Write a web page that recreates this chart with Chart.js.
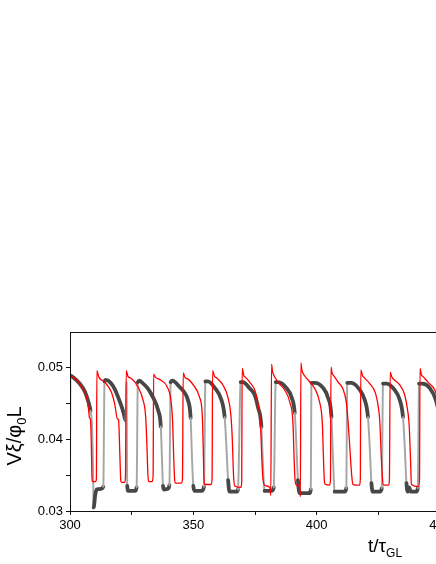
<!DOCTYPE html>
<html>
<head>
<meta charset="utf-8">
<script src="https://cdn.jsdelivr.net/npm/chart.js@4"></script>
<style>
  html, body { margin: 0; padding: 0; background: #fff; overflow: hidden; }
  #wrap { position: relative; width: 460px; height: 564px; }
</style>
</head>
<body>
<div id="wrap"><canvas id="myChart" width="460" height="564"></canvas></div>
<script>
/* gray (simulation) series */
const grayT = [300.0, 300.2, 301.5, 303.9, 306.0, 307.5, 308.3, 308.9, 309.3, 309.6, 310.2, 310.8, 312.5, 313.5,
  314.0, 314.4, 316.5, 318.2, 319.5, 321.0, 321.8, 322.5, 322.9, 323.2, 323.7, 326.3, 327.0,
  327.5, 328.2, 329.0, 331.6, 333.6, 335.7, 336.8, 337.3, 337.7, 338.2, 339.6, 340.3,
  340.8, 341.5, 344.5, 346.5, 347.8, 348.9, 349.5, 350.0, 350.6, 353.3, 354.3,
  354.9, 355.9, 358.7, 361.4, 362.7, 363.4, 364.1, 364.7, 367.5, 368.1,
  369.2, 370.1, 372.9, 374.9, 376.2, 377.6, 378.2, 378.9, 381.7, 382.6,
  383.4, 384.3, 387.7, 389.8, 391.1, 391.8, 392.4, 393.1, 397.2, 397.6,
  397.9, 399.2, 402.6, 404.6, 406.0, 406.6, 407.3, 411.4, 412.0,
  412.4, 414.1, 417.5, 419.5, 420.8, 421.5, 422.2, 422.8, 425.6, 426.4,
  426.9, 428.3, 431.6, 433.7, 435.0, 435.7, 436.4, 436.9, 437.5, 438.2, 440.4, 441.0,
  441.5, 442.9, 445.8, 448.3, 449.5, 450.2];
const grayV = [0.0365, 0.0489, 0.0486, 0.0478, 0.0467, 0.0452, 0.0440, 0.0420, 0.0370, 0.0305, 0.0322, 0.0330, 0.0331, 0.0334,
  0.0481, 0.0483, 0.0479, 0.0470, 0.0459, 0.0445, 0.0436, 0.0427, 0.0480, 0.0335, 0.0328, 0.0328, 0.0333,
  0.0480, 0.0482, 0.0480, 0.0471, 0.0459, 0.0441, 0.0418, 0.0371, 0.0335, 0.0330, 0.0331, 0.0336,
  0.0480, 0.0482, 0.0473, 0.0465, 0.0455, 0.0430, 0.0370, 0.0335, 0.0328, 0.0328, 0.0334,
  0.0481, 0.0481, 0.0472, 0.0455, 0.0431, 0.0390, 0.0343, 0.0327, 0.0327, 0.0330,
  0.0480, 0.0480, 0.0471, 0.0462, 0.0445, 0.0417, 0.0367, 0.0328, 0.0328, 0.0333,
  0.0480, 0.0480, 0.0472, 0.0459, 0.0437, 0.0390, 0.0343, 0.0325, 0.0325, 0.0330,
  0.0479, 0.0479, 0.0472, 0.0458, 0.0431, 0.0376, 0.0327, 0.0327, 0.0332,
  0.0479, 0.0479, 0.0469, 0.0455, 0.0431, 0.0390, 0.0339, 0.0327, 0.0327, 0.0332,
  0.0478, 0.0478, 0.0469, 0.0455, 0.0431, 0.0390, 0.0339, 0.0327, 0.0333, 0.0327, 0.0327, 0.0332,
  0.0478, 0.0478, 0.0472, 0.0455, 0.0435, 0.0400];

/* red (model) series */
const redT = [300.0, 302.0, 303.9, 305.5, 306.7, 307.5, 307.9, 308.3, 308.6, 308.9, 309.1, 310.4, 310.7,
  310.9, 311.7, 314.1, 316.8, 318.1, 319.2, 319.7, 320.2, 320.6, 321.0, 322.2, 322.5,
  322.8, 323.5, 324.9, 327.6, 329.6, 330.6, 331.1, 331.6, 331.9, 333.3, 333.7,
  333.9, 334.6, 336.7, 339.3, 340.9, 341.6, 342.0, 342.4, 342.7, 345.2, 345.6,
  345.9, 346.7, 347.5, 350.2, 352.5, 353.6, 354.0, 354.3, 354.6, 357.2, 357.6,
  357.8, 358.6, 359.4, 362.0, 364.0, 365.2, 365.8, 366.3, 366.8, 369.3, 369.6,
  369.8, 370.5, 371.1, 373.3, 374.9, 376.2, 377.2, 377.7, 378.1, 378.9, 381.0, 381.4,
  381.7, 382.1, 382.6, 384.3, 387.0, 389.1, 390.4, 390.8, 391.2, 391.8, 393.1, 393.4,
  393.6, 394.0, 394.5, 396.5, 399.2, 401.2, 402.3, 402.7, 403.0, 403.3, 405.3, 405.6,
  405.8, 406.3, 406.7, 408.7, 410.7, 412.0, 412.8, 413.6, 414.2, 414.7, 417.4, 417.7,
  417.9, 418.6, 419.1, 421.5, 423.9, 425.0, 425.6, 426.2, 426.7, 427.0, 429.2, 429.5,
  429.8, 430.5, 430.9, 433.7, 435.7, 436.9, 437.5, 438.1, 438.4, 441.4, 441.7,
  441.9, 442.5, 443.1, 445.1, 447.9, 449.0, 450.3];
const redV = [0.0490, 0.0485, 0.0478, 0.0469, 0.0459, 0.0443, 0.0430, 0.0428, 0.0400, 0.0348, 0.0341, 0.0341, 0.0345,
  0.0496, 0.0487, 0.0480, 0.0466, 0.0450, 0.0429, 0.0427, 0.0380, 0.0342, 0.0340, 0.0340, 0.0350,
  0.0496, 0.0488, 0.0485, 0.0473, 0.0455, 0.0435, 0.0400, 0.0350, 0.0341, 0.0341, 0.0350,
  0.0491, 0.0487, 0.0483, 0.0474, 0.0455, 0.0425, 0.0380, 0.0345, 0.0339, 0.0339, 0.0345,
  0.0493, 0.0486, 0.0485, 0.0475, 0.0459, 0.0435, 0.0390, 0.0345, 0.0337, 0.0337, 0.0345,
  0.0496, 0.0488, 0.0486, 0.0476, 0.0459, 0.0435, 0.0400, 0.0350, 0.0335, 0.0333, 0.0340,
  0.0499, 0.0489, 0.0487, 0.0478, 0.0469, 0.0450, 0.0422, 0.0380, 0.0350, 0.0336, 0.0333, 0.0322,
  0.0505, 0.0495, 0.0490, 0.0480, 0.0469, 0.0452, 0.0422, 0.0380, 0.0345, 0.0336, 0.0334, 0.0320,
  0.0507, 0.0497, 0.0492, 0.0483, 0.0471, 0.0452, 0.0422, 0.0380, 0.0350, 0.0338, 0.0336, 0.0345,
  0.0501, 0.0492, 0.0490, 0.0480, 0.0470, 0.0452, 0.0422, 0.0380, 0.0350, 0.0337, 0.0336, 0.0345,
  0.0497, 0.0489, 0.0487, 0.0478, 0.0464, 0.0445, 0.0425, 0.0375, 0.0345, 0.0336, 0.0336, 0.0345,
  0.0494, 0.0487, 0.0485, 0.0476, 0.0462, 0.0440, 0.0420, 0.0366, 0.0337, 0.0334, 0.0345,
  0.0499, 0.0490, 0.0488, 0.0480, 0.0469, 0.0458, 0.0442];

/* axes */
const xMin = 300, xMax = 450, xStep = 25;
const xLabels = [300, 350, 400, 450];
const yMin = 0.03, yMax = 0.055, yStep = 0.005;
const yLabels = [0.03, 0.04, 0.05];

const FONT = "'Liberation Sans', Arial, sans-serif";

const toPoints = (xs, ys) => xs.map((x, i) => ({ x: x, y: ys[i] }));

// only the near-vertical jumps of the gray trace look like sparse light markers
const steep = (c) => Math.abs(c.p1.y - c.p0.y) > 14 && Math.abs(c.p1.y - c.p0.y) > 7 * Math.abs(c.p1.x - c.p0.x);

/* frame + axis titles with subscripts */
function drawParts(ctx, parts, x, y) {
  let cx = x;
  parts.forEach((p) => {
    ctx.font = p.size + 'px ' + FONT;
    ctx.fillText(p.text, cx, y + (p.dy || 0));
    cx += ctx.measureText(p.text).width;
  });
}
function partsWidth(ctx, parts) {
  return parts.reduce((acc, p) => {
    ctx.font = p.size + 'px ' + FONT;
    return acc + ctx.measureText(p.text).width;
  }, 0);
}

const frameAndTitles = {
  id: 'frameAndTitles',
  afterDraw(chart) {
    const { ctx, chartArea: a } = chart;
    ctx.save();
    ctx.strokeStyle = '#111';
    ctx.lineWidth = 1;
    ctx.strokeRect(Math.round(a.left) + 0.5, Math.round(a.top) + 0.5,
      Math.round(a.right - a.left), Math.round(a.bottom - a.top));

    ctx.fillStyle = '#000';
    ctx.textBaseline = 'alphabetic';
    ctx.textAlign = 'left';
    drawParts(ctx, [
      { text: 't/\u03C4', size: 19 },
      { text: 'GL', size: 12, dy: 5 },
    ], 368, 552);

    const yParts = [
      { text: 'V\u03BE/\u03C6', size: 20 },
      { text: '0', size: 13, dy: 5 },
      { text: 'L', size: 20 },
    ];
    ctx.translate(21, 436);
    ctx.rotate(-Math.PI / 2);
    drawParts(ctx, yParts, -partsWidth(ctx, yParts) / 2, 0);
    ctx.restore();
  },
};

const ctx = document.getElementById('myChart');

new Chart(ctx, {
  type: 'line',
  data: {
    datasets: [
      {
        label: 'model',
        data: toPoints(redT, redV),
        borderColor: '#ff0000',
        borderWidth: 1.3,
        pointRadius: 0,
        cubicInterpolationMode: 'monotone',
      },
      {
        label: 'simulation',
        data: toPoints(grayT, grayV),
        borderColor: '#474747',
        borderWidth: 3.8,
        borderCapStyle: 'round',
        borderJoinStyle: 'round',
        pointRadius: 0,
        cubicInterpolationMode: 'monotone',
        segment: {
          borderColor: (c) => (steep(c) ? '#a6a6a6' : undefined),
          borderWidth: (c) => (steep(c) ? 2 : undefined),
          borderDash: (c) => (steep(c) ? [2, 1] : undefined),
        },
      },
    ],
  },
  options: {
    responsive: false,
    animation: false,
    layout: { padding: { top: 332, right: 20, bottom: 23, left: 0 } },
    plugins: { legend: { display: false }, tooltip: { enabled: false } },
    scales: {
      x: {
        type: 'linear',
        min: xMin,
        max: xMax,
        afterFit: (s) => { s.height = 30; },
        border: { display: false },
        grid: { drawOnChartArea: false, tickLength: 4, color: '#111' },
        ticks: {
          stepSize: xStep,
          maxRotation: 0,
          padding: 3,
          color: '#000',
          font: { family: FONT, size: 13 },
          callback: (v) => (xLabels.includes(v) ? String(v) : ''),
        },
      },
      y: {
        min: yMin,
        max: yMax,
        afterFit: (s) => { s.width = 70; },
        border: { display: false },
        grid: {
          drawOnChartArea: false,
          tickLength: 4,
          color: (c) => (c.tick && c.tick.value > yMax - 0.0001 ? 'rgba(0,0,0,0)' : '#111'),
        },
        ticks: {
          stepSize: yStep,
          padding: 3,
          color: '#000',
          font: { family: FONT, size: 13 },
          callback: (v) => (yLabels.some((l) => Math.abs(l - v) < 1e-6) ? v.toFixed(2) : ''),
        },
      },
    },
  },
  plugins: [frameAndTitles],
});
</script>
</body>
</html>
